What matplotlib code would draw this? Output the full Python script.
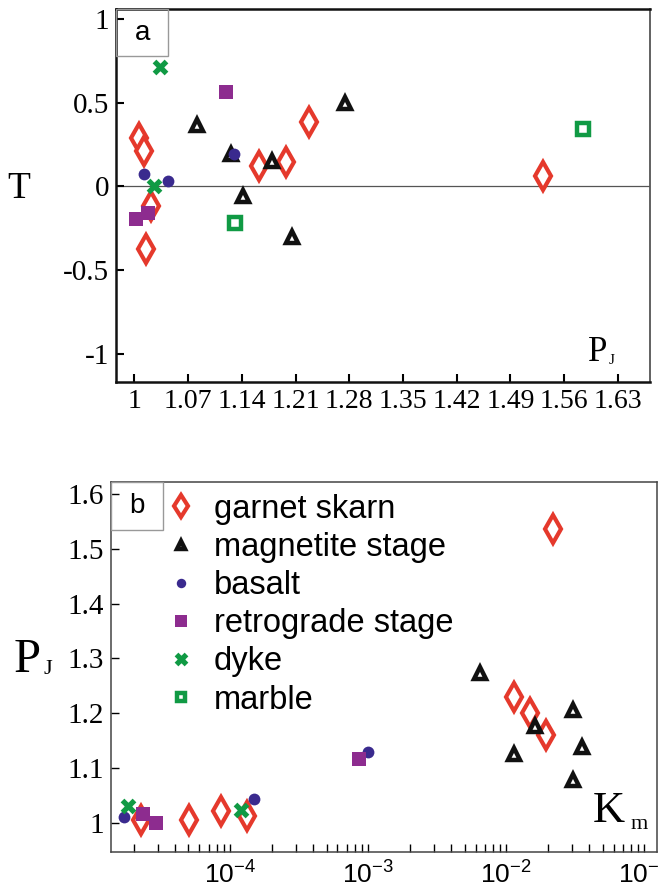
import numpy as np
import matplotlib.pyplot as plt
from matplotlib.patches import Rectangle

plt.rcParams['axes.unicode_minus'] = False

# ---- panel a: T vs PJ ----
garnet_pj = [1.228, 1.006, 1.013, 1.162, 1.197, 1.022, 1.015, 1.532]
garnet_t = [0.386, 0.29, 0.214, 0.12, 0.144, -0.116, -0.374, 0.06]
magn_pj = [1.081, 1.275, 1.126, 1.179, 1.141, 1.205]
magn_t = [0.364, 0.497, 0.196, 0.15, -0.06, -0.304]
basalt_pj = [1.13, 1.013, 1.044]
basalt_t = [0.196, 0.072, 0.03]
retro_pj = [1.12, 1.002, 1.018]
retro_t = [0.566, -0.196, -0.16]
dyke_pj = [1.033, 1.026]
dyke_t = [0.714, 0.0]
marble_pj = [1.131, 1.585]
marble_t = [-0.22, 0.34]

# ---- panel b: PJ vs Km ----
garnet_km = [0.02167, 0.0113, 0.0149, 0.0193, 2.26e-5, 5.04e-5, 8.55e-5, 1.33e-4]
garnet_pj2 = [1.535, 1.23, 1.2, 1.16, 1.006, 1.006, 1.022, 1.013]
magn_km = [0.0065, 0.0162, 0.0303, 0.0113, 0.0356, 0.0303]
magn_pj2 = [1.273, 1.178, 1.206, 1.126, 1.139, 1.079]
basalt_km = [9.9e-4, 1.71e-5, 1.5e-4]
basalt_pj2 = [1.13, 1.012, 1.045]
retro_km = [8.6e-4, 2.33e-5, 2.92e-5]
retro_pj2 = [1.118, 1.017, 1.001]
dyke_km = [1.83e-5, 1.21e-4]
dyke_pj2 = [1.032, 1.024]
marble_km = []
marble_pj2 = []

labels = ['garnet skarn', 'magnetite stage', 'basalt', 'retrograde stage', 'dyke', 'marble']

xt_a = [1, 1.07, 1.14, 1.21, 1.28, 1.35, 1.42, 1.49, 1.56, 1.63]
xt_a_lab = ['1', '1.07', '1.14', '1.21', '1.28', '1.35', '1.42', '1.49', '1.56', '1.63']
yt_a = [1, 0.5, 0, -0.5, -1]
yt_a_lab = ['1', '0.5', '0', '-0.5', '-1']
yt_b = [1, 1.1, 1.2, 1.3, 1.4, 1.5, 1.6]
yt_b_lab = ['1', '1.1', '1.2', '1.3', '1.4', '1.5', '1.6']
xt_b = [1e-4, 1e-3, 1e-2, 1e-1]
xt_b_lab = [r'$\mathregular{10^{-4}}$', r'$\mathregular{10^{-3}}$',
            r'$\mathregular{10^{-2}}$', r'$\mathregular{10^{-1}}$']

RED = '#e5392c'
BLACK = '#111111'
INDIGO = '#3a2a8e'
PURPLE = '#8d2c8f'
GREEN = '#109a44'

styles = [
    dict(marker='d', ms=14, mfc='white', mec=RED, mew=3.0),
    dict(marker='^', ms=8, mfc='white', mec=BLACK, mew=3.2),
    dict(marker='o', ms=8.5, mfc=INDIGO, mec=INDIGO, mew=0),
    dict(marker='s', ms=10.5, mfc=PURPLE, mec=PURPLE, mew=0),
    dict(marker='x', ms=9, mfc=GREEN, mec=GREEN, mew=3.8),
    dict(marker='s', ms=8, mfc='white', mec=GREEN, mew=3.2),
]

SERIF = 'Liberation Serif'
SANS = 'Liberation Sans'
W, H = 659, 889

fig = plt.figure(figsize=(6.59, 8.89), dpi=100)

ax1 = fig.add_axes([116 / W, 1 - 382 / H, 534 / W, 373 / H])
ax2 = fig.add_axes([111 / W, 1 - 852 / H, 546 / W, 370 / H])

data_a = [(garnet_pj, garnet_t), (magn_pj, magn_t), (basalt_pj, basalt_t),
          (retro_pj, retro_t), (dyke_pj, dyke_t), (marble_pj, marble_t)]
data_b = [(garnet_km, garnet_pj2), (magn_km, magn_pj2), (basalt_km, basalt_pj2),
          (retro_km, retro_pj2), (dyke_km, dyke_pj2), (marble_km, marble_pj2)]

ax1.axhline(0, color='#555555', lw=0.9, zorder=1)
for (x, y), st in zip(data_a, styles):
    ax1.plot(x, y, ls='none', zorder=3, **st)

ax1.set_xlim(0.976, 1.672)
ax1.set_ylim(-1.17, 1.06)
ax1.set_xticks(xt_a)
ax1.set_xticklabels(xt_a_lab, family=SERIF, fontsize=20)
ax1.set_yticks(yt_a)
ax1.set_yticklabels(yt_a_lab, family=SERIF, fontsize=21)
ax1.tick_params(direction='in', length=6, width=1.5, pad=5)
for s in ax1.spines.values():
    s.set_linewidth(1.8)
    s.set_color('#111111')
ax1.spines['right'].set_color('#555555')
ax1.spines['right'].set_linewidth(1.3)

ax1.add_patch(Rectangle((0, 0.873), 0.098, 0.127, transform=ax1.transAxes,
                        fill=False, ec='#999999', lw=1, zorder=5))
ax1.text(0.049, 0.936, 'a', transform=ax1.transAxes, ha='center', va='center',
         family=SANS, fontsize=20)

lines = []
for (x, y), st, lab in zip(data_b, styles, labels):
    ln, = ax2.plot(x, y, ls='none', zorder=3, label=lab, **st)
    lines.append(ln)

ax2.set_xscale('log')
ax2.set_xlim(1.374e-5, 1.236e-1)
ax2.set_ylim(0.948, 1.621)
ax2.set_xticks(xt_b)
ax2.set_xticklabels(xt_b_lab, family=SANS, fontsize=19)
ax2.set_yticks(yt_b)
ax2.set_yticklabels(yt_b_lab, family=SERIF, fontsize=21)
ax2.tick_params(which='both', direction='in', length=6, width=1, pad=5)
ax2.tick_params(axis='x', pad=7)
for s in ax2.spines.values():
    s.set_linewidth(1.1)
    s.set_color('#444444')

ax2.add_patch(Rectangle((0, 0.871), 0.095, 0.129, transform=ax2.transAxes,
                        fill=False, ec='#999999', lw=1, zorder=5))
ax2.text(0.0475, 0.935, 'b', transform=ax2.transAxes, ha='center', va='center',
         family=SANS, fontsize=20)

ax2.legend(handles=lines, loc='upper left', bbox_to_anchor=(0.06, 1.03),
           frameon=False, prop={'family': SANS, 'size': 23.5}, markerscale=0.8,
           handlelength=0.9, handletextpad=0.55, labelspacing=0.22,
           borderpad=0.2, numpoints=1)

# axis titles
fig.text(7 / W, 1 - 198 / H, 'T', family=SERIF, fontsize=27, va='baseline')
fig.text(588 / W, 1 - 361 / H, 'P', family=SERIF, fontsize=25, va='baseline')
fig.text(609 / W, 1 - 364 / H, 'J', family=SERIF, fontsize=11, va='baseline')
fig.text(14 / W, 1 - 672 / H, 'P', family=SERIF, fontsize=35, va='baseline')
fig.text(44 / W, 1 - 674 / H, 'J', family=SERIF, fontsize=16, va='baseline')
fig.text(593 / W, 1 - 822 / H, 'K', family=SERIF, fontsize=32, va='baseline')
fig.text(631 / W, 1 - 829 / H, 'm', family=SERIF, fontsize=16, va='baseline')

fig.savefig('out.png', dpi=100)
